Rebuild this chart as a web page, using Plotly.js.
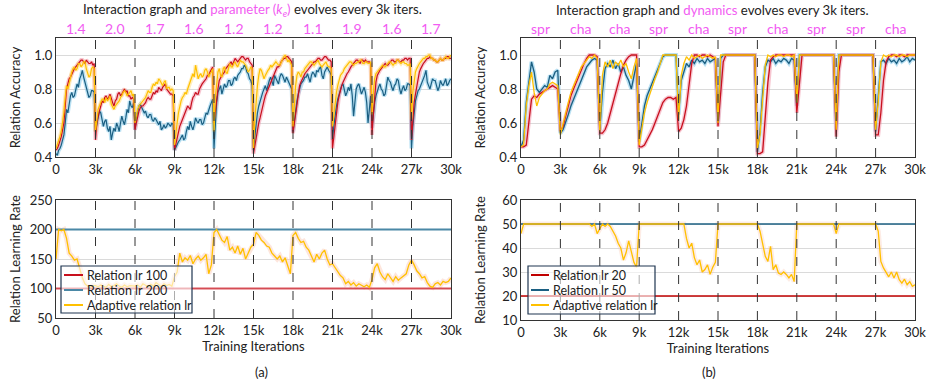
<!DOCTYPE html>
<html>
<head>
<meta charset="utf-8">
<script src="https://cdn.plot.ly/plotly-3.0.1.min.js"></script>
<style>html,body{margin:0;padding:0;background:#fff;}#chart{width:927px;height:383px;}</style>
</head>
<body>
<div id="chart"></div>
<script>
// ---------------- DATA ----------------
// sample grids (training iterations)
const iters100 = [];
for (let t = 0; t <= 30000; t += 100) iters100.push(t);
const iters = [];
for (let t = 0; t <= 30000; t += 200) iters.push(t);

const tickVals = [0, 3000, 6000, 9000, 12000, 15000, 18000, 21000, 24000, 27000, 30000];
const tickText = ['0', '3k', '6k', '9k', '12k', '15k', '18k', '21k', '24k', '27k', '30k'];
const segmentBounds = [3000, 6000, 9000, 12000, 15000, 18000, 21000, 24000, 27000];
const segmentMids = [1500, 4500, 7500, 10500, 13500, 16500, 19500, 22500, 25500, 28500];
const paramLabels = ['1.4', '2.0', '1.7', '1.6', '1.2', '1.2', '1.1', '1.9', '1.6', '1.7'];
const dynLabels = ['spr', 'cha', 'cha', 'spr', 'cha', 'spr', 'cha', 'spr', 'spr', 'cha'];

// (a) relation accuracy, every 100 iters
const accA_lr100 = [
 0.44,0.45,0.47,0.49,0.52, 0.56,0.60,0.70,0.80,0.83, 0.86,0.87,0.89,0.91,0.92, 0.93,0.94,0.95,0.96,0.97, 0.97,0.96,0.95,0.97,0.96, 0.95,0.95,0.96,0.94,0.95,
 0.50,0.60,0.64,0.68,0.70, 0.73,0.72,0.75,0.76,0.74, 0.75,0.77,0.74,0.72,0.70, 0.73,0.74,0.77,0.78,0.76, 0.77,0.79,0.80,0.78,0.79, 0.76,0.76,0.74,0.75,0.74,
 0.56,0.60,0.64,0.67,0.69, 0.70,0.70,0.71,0.72,0.74, 0.75,0.74,0.74,0.76,0.78, 0.77,0.79,0.78,0.81,0.80, 0.79,0.81,0.82,0.83,0.80, 0.79,0.78,0.77,0.77,0.76,
 0.44,0.48,0.52,0.55,0.58, 0.60,0.62,0.64,0.66,0.68, 0.70,0.69,0.68,0.72,0.75, 0.76,0.78,0.77,0.77,0.80, 0.82,0.83,0.84,0.85,0.86, 0.88,0.88,0.90,0.92,0.93,
 0.60,0.68,0.75,0.80,0.85, 0.87,0.88,0.89,0.90,0.92, 0.93,0.94,0.95,0.96,0.94, 0.96,0.98,0.97,0.96,0.97, 0.98,0.99,0.99,0.98,0.97, 0.98,0.98,0.96,0.95,0.94,
 0.42,0.47,0.52,0.56,0.60, 0.63,0.67,0.70,0.73,0.76, 0.78,0.80,0.82,0.84,0.86, 0.88,0.90,0.91,0.93,0.93, 0.94,0.96,0.97,0.98,0.98, 0.99,0.99,0.98,0.97,0.96,
 0.54,0.60,0.66,0.72,0.78, 0.82,0.84,0.86,0.88,0.89, 0.90,0.91,0.92,0.93,0.94, 0.95,0.96,0.96,0.97,0.98, 0.98,0.97,0.97,0.98,0.99, 0.99,0.98,0.97,0.97,0.96,
 0.45,0.52,0.60,0.66,0.72, 0.76,0.80,0.82,0.84,0.86, 0.88,0.89,0.90,0.92,0.93, 0.94,0.95,0.96,0.97,0.97, 0.96,0.95,0.97,0.97,0.96, 0.97,0.96,0.96,0.96,0.95,
 0.53,0.65,0.78,0.84,0.88, 0.90,0.91,0.92,0.93,0.94, 0.95,0.94,0.94,0.95,0.96, 0.97,0.97,0.96,0.96,0.97, 0.97,0.96,0.96,0.97,0.97, 0.98,0.98,0.97,0.98,0.98,
 0.50,0.62,0.72,0.77,0.82, 0.86,0.90,0.92,0.94,0.95, 0.96,0.97,0.98,0.98,0.99, 0.98,0.98,0.97,0.97,0.96, 0.96,0.97,0.98,0.97,0.97, 0.98,0.98,0.99,0.99,0.98, 0.98];
const accA_lr200 = [
 0.42,0.41,0.44,0.45,0.47, 0.50,0.53,0.60,0.68,0.66, 0.73,0.76,0.78,0.75,0.76, 0.80,0.83,0.81,0.86,0.88, 0.91,0.87,0.84,0.80,0.78, 0.75,0.76,0.79,0.79,0.78,
 0.55,0.60,0.63,0.67,0.66, 0.62,0.58,0.61,0.62,0.57, 0.55,0.58,0.50,0.54,0.57, 0.55,0.60,0.58,0.55,0.60, 0.64,0.61,0.59,0.63,0.68, 0.66,0.73,0.70,0.69,0.72,
 0.56,0.63,0.67,0.70,0.71, 0.69,0.68,0.66,0.67,0.64, 0.63,0.65,0.65,0.62,0.61, 0.63,0.62,0.60,0.59,0.61, 0.56,0.57,0.59,0.57,0.58, 0.60,0.59,0.58,0.60,0.59,
 0.44,0.46,0.47,0.49,0.50, 0.52,0.53,0.50,0.51,0.55, 0.58,0.56,0.61,0.58,0.56, 0.59,0.63,0.61,0.60,0.62, 0.62,0.59,0.60,0.63,0.66, 0.65,0.68,0.70,0.72,0.74,
 0.45,0.62,0.72,0.78,0.80, 0.82,0.77,0.80,0.83,0.81, 0.82,0.85,0.85,0.82,0.83, 0.86,0.87,0.85,0.88,0.89, 0.90,0.92,0.92,0.94,0.93, 0.90,0.89,0.86,0.85,0.82,
 0.44,0.52,0.60,0.66,0.70, 0.73,0.76,0.78,0.80,0.82, 0.79,0.83,0.85,0.87,0.84, 0.82,0.88,0.86,0.85,0.83, 0.87,0.89,0.88,0.86,0.84, 0.87,0.85,0.83,0.81,0.80,
 0.55,0.62,0.68,0.73,0.77, 0.80,0.83,0.84,0.85,0.87, 0.87,0.89,0.86,0.84,0.88, 0.90,0.89,0.87,0.91,0.90, 0.92,0.93,0.88,0.86,0.90, 0.92,0.93,0.91,0.90,0.88,
 0.50,0.58,0.66,0.70,0.74, 0.77,0.79,0.82,0.83,0.80, 0.76,0.78,0.81,0.79,0.83, 0.76,0.64,0.72,0.80,0.82, 0.83,0.80,0.77,0.79,0.81, 0.78,0.72,0.60,0.70,0.76,
 0.57,0.65,0.72,0.76,0.79, 0.81,0.83,0.80,0.79,0.76, 0.77,0.82,0.87,0.85,0.84, 0.81,0.79,0.82,0.83,0.86, 0.85,0.80,0.77,0.80,0.82, 0.79,0.80,0.83,0.83,0.82,
 0.45,0.58,0.68,0.73,0.76, 0.79,0.80,0.82,0.83,0.86, 0.88,0.91,0.84,0.82,0.80, 0.83,0.86,0.85,0.85,0.82, 0.79,0.81,0.85,0.83,0.82, 0.84,0.86,0.82,0.83,0.85, 0.86];
const accA_adapt = [
 0.45,0.47,0.49,0.52,0.55, 0.60,0.66,0.75,0.82,0.80, 0.84,0.88,0.90,0.92,0.93, 0.91,0.92,0.95,0.95,0.93, 0.94,0.96,0.96,0.92,0.90, 0.87,0.88,0.92,0.93,0.92,
 0.55,0.64,0.68,0.70,0.72, 0.74,0.74,0.72,0.75,0.73, 0.74,0.76,0.71,0.69,0.68, 0.70,0.71,0.72,0.73,0.75, 0.76,0.78,0.79,0.78,0.76, 0.77,0.78,0.79,0.76,0.77,
 0.60,0.65,0.68,0.70,0.71, 0.72,0.73,0.74,0.75,0.77, 0.79,0.78,0.78,0.81,0.83, 0.82,0.84,0.83,0.86,0.85, 0.83,0.82,0.84,0.85,0.80, 0.81,0.81,0.79,0.80,0.79,
 0.47,0.55,0.60,0.66,0.70, 0.73,0.75,0.76,0.78,0.77, 0.80,0.82,0.84,0.86,0.89, 0.87,0.94,0.90,0.86,0.88, 0.89,0.87,0.88,0.91,0.92, 0.90,0.87,0.89,0.90,0.92,
 0.55,0.75,0.84,0.90,0.92, 0.88,0.87,0.92,0.93,0.90, 0.89,0.93,0.95,0.93,0.93, 0.95,0.96,0.94,0.93,0.95, 0.97,0.96,0.96,0.95,0.94, 0.92,0.90,0.91,0.93,0.92,
 0.45,0.62,0.73,0.82,0.88, 0.92,0.91,0.88,0.86,0.88, 0.90,0.91,0.92,0.94,0.93, 0.94,0.95,0.96,0.95,0.94, 0.94,0.96,0.97,0.99,1.00, 0.98,0.96,0.97,0.95,0.94,
 0.58,0.72,0.82,0.88,0.90, 0.89,0.87,0.90,0.90,0.92, 0.93,0.94,0.95,0.96,0.96, 0.95,0.94,0.95,0.96,0.97, 0.95,0.94,0.93,0.94,0.95, 0.96,0.94,0.93,0.93,0.92,
 0.58,0.66,0.72,0.78,0.82, 0.85,0.88,0.89,0.90,0.92, 0.93,0.94,0.95,0.96,0.96, 0.95,0.94,0.95,0.95,0.96, 0.96,0.97,0.97,0.95,0.95, 0.96,0.96,0.95,0.95,0.96,
 0.65,0.78,0.86,0.89,0.90, 0.91,0.92,0.93,0.94,0.93, 0.93,0.94,0.95,0.96,0.96, 0.95,0.94,0.95,0.95,0.97, 0.97,0.96,0.95,0.96,0.96, 0.95,0.95,0.94,0.94,0.95,
 0.62,0.78,0.86,0.90,0.92, 0.94,0.95,0.96,0.97,0.98, 0.98,0.99,0.99,1.00,1.00, 0.98,0.98,0.97,0.97,0.96, 0.96,0.97,0.98,0.97,0.97, 0.98,0.99,0.98,0.98,0.99, 1.00];

// (b) relation accuracy, every 200 iters
const accB_lr20 = [
 0.46,0.46,0.47,0.62,0.74,0.76,0.75,0.77,0.78,0.79,0.80,0.81,0.82,0.81,0.80,
 0.55,0.58,0.64,0.70,0.76,0.80,0.84,0.88,0.92,0.95,0.98,1.00,1.00,1.00,0.99,
 0.54,0.54,0.56,0.60,0.66,0.72,0.78,0.84,0.89,0.94,0.97,0.99,1.00,1.00,1.00,
 0.46,0.46,0.47,0.50,0.53,0.56,0.60,0.64,0.68,0.72,0.74,0.75,0.75,0.74,0.75,
 0.55,0.57,0.62,0.70,0.82,0.95,1.00,1.00,0.99,1.00,1.00,0.99,1.00,0.99,0.98,
 0.58,0.78,0.96,1.00,1.00,1.00,1.00,1.00,1.00,1.00,1.00,1.00,1.00,1.00,1.00,
 0.42,0.42,0.43,0.62,0.84,0.97,0.99,1.00,1.00,1.00,1.00,1.00,1.00,1.00,1.00,
 0.66,0.85,1.00,1.00,1.00,1.00,1.00,1.00,1.00,1.00,1.00,1.00,1.00,1.00,1.00,
 0.52,0.90,1.00,1.00,1.00,1.00,1.00,1.00,1.00,1.00,1.00,1.00,1.00,1.00,1.00,
 0.53,0.53,0.66,0.85,0.96,0.99,1.00,1.00,0.99,1.00,1.00,0.99,1.00,1.00,1.00,1.00];
const accB_lr50 = [
 0.46,0.50,0.72,0.85,0.96,0.90,0.80,0.78,0.80,0.82,0.81,0.88,0.86,0.90,0.91,
 0.54,0.56,0.60,0.65,0.70,0.74,0.78,0.82,0.86,0.90,0.93,0.95,0.97,0.98,0.97,
 0.56,0.78,0.92,0.95,0.93,0.97,0.92,0.95,0.90,0.93,0.88,0.85,0.80,0.88,0.95,
 0.49,0.60,0.70,0.76,0.80,0.84,0.88,0.92,0.96,0.99,1.00,1.00,1.00,1.00,1.00,
 0.65,0.85,0.90,0.95,0.93,0.97,0.95,0.98,0.96,0.97,0.95,0.98,0.96,0.97,0.98,
 0.60,0.98,1.00,1.00,1.00,1.00,1.00,1.00,1.00,1.00,1.00,1.00,1.00,1.00,1.00,
 0.43,0.55,0.78,0.93,0.97,0.96,0.98,0.95,0.97,0.96,0.98,0.97,0.95,0.98,0.97,
 0.70,1.00,1.00,1.00,1.00,1.00,1.00,1.00,1.00,1.00,1.00,1.00,1.00,1.00,1.00,
 0.56,1.00,1.00,1.00,1.00,1.00,1.00,1.00,1.00,1.00,1.00,1.00,1.00,1.00,1.00,
 0.55,0.75,0.96,0.97,0.95,0.98,0.96,0.97,0.95,0.98,0.96,0.97,0.99,0.96,0.98,0.97];
const accB_adapt = [
 0.46,0.47,0.70,0.82,0.90,0.78,0.70,0.75,0.77,0.79,0.80,0.83,0.84,0.83,0.82,
 0.53,0.60,0.66,0.72,0.78,0.82,0.86,0.89,0.93,0.95,0.97,0.99,0.98,1.00,0.98,
 0.55,0.88,0.96,0.93,0.97,0.92,0.96,0.94,0.97,0.93,0.95,0.90,0.86,0.93,0.98,
 0.47,0.58,0.66,0.72,0.77,0.82,0.86,0.90,0.95,1.00,1.00,1.00,1.00,1.00,1.00,
 0.62,0.88,0.95,0.99,0.97,1.00,0.98,0.99,1.00,0.98,0.99,1.00,0.99,0.98,0.99,
 0.60,1.00,1.00,1.00,1.00,1.00,1.00,1.00,1.00,1.00,1.00,1.00,1.00,1.00,1.00,
 0.45,0.53,0.74,0.94,1.00,0.99,1.00,0.99,1.00,1.00,0.99,1.00,1.00,0.99,1.00,
 0.72,1.00,1.00,1.00,1.00,1.00,1.00,1.00,1.00,1.00,1.00,1.00,1.00,1.00,1.00,
 0.56,1.00,1.00,1.00,1.00,1.00,1.00,1.00,1.00,1.00,1.00,1.00,1.00,1.00,1.00,
 0.56,0.72,0.96,1.00,0.99,1.00,0.99,1.00,1.00,0.99,1.00,1.00,0.99,1.00,1.00,1.00];

// (a) learning rates, every 200 iters
const lrA_fixedX = [0, 30000];
const lrA_low = [100, 100];
const lrA_high = [200, 200];
const lrA_adapt = [
 150,200,198,200,185,160,155,148,150,135,118,108,104,102,105,
 105,103,106,104,102,107,103,105,108,104,102,106,103,105,104,
 104,106,102,108,105,103,107,104,110,106,103,108,105,107,104,
 120,128,160,145,152,148,156,142,150,155,148,152,158,125,140,
 195,200,190,182,178,188,165,170,160,172,158,168,150,160,170,
 175,195,190,182,178,172,170,160,155,150,155,145,152,140,125,
 190,195,185,178,180,170,165,155,145,158,150,160,165,150,140,
 142,135,130,122,118,108,112,106,110,104,108,105,103,106,102,
 115,135,142,128,120,115,125,118,112,120,114,118,122,125,140,
 148,140,130,125,118,120,110,104,102,108,110,106,112,110,112,118];

// (b) learning rates, every 200 iters
const lrB_fixedX = [0, 30000];
const lrB_low = [20, 20];
const lrB_high = [50, 50];
const lrB_adapt = [
 46,50,50,50,50,50,50,50,50,50,50,50,50,50,50,
 50,50,50,50,50,50,50,50,50,50,50,50,49,50,46,
 48,50,49,50,49,47,45,42,40,35,38,43,38,34,32,
 50,50,50,50,50,50,50,50,50,50,50,50,50,50,50,
 50,50,50,44,40,42,36,33,35,30,31,33,29,32,34,
 50,50,50,50,50,50,50,50,50,50,50,50,50,50,50,
 50,47,41,36.5,34.4,40.7,31,33,29.6,29,30,29,27.5,29,26,
 50,50,50,50,50,50,50,50,50,50,50,50,50,50,50,
 46,50,50,50,50,50,50,50,50,50,50,50,50,50,50,
 50,47,34.4,31.7,30,28,30,27.5,30,26.8,25.4,27,24.7,26,24,24.7];

// legend labels
const legendA = ['Relation lr 100', 'Relation lr 200', 'Adaptive relation lr'];
const legendB = ['Relation lr 20', 'Relation lr 50', 'Adaptive relation lr'];

// ---------------- STYLE ----------------
const FONT = 'Lato, "Open Sans", sans-serif';
const RED = '#c8101e', BLUE = '#1b5f82', YEL = '#ffc000';
const RED_BAND = 'rgba(240,150,170,0.55)', BLUE_BAND = 'rgba(140,205,235,0.6)', YEL_BAND = 'rgba(255,220,120,0.5)';
const PINK = '#f25cf2';
const RED_A_LR = 'rgba(210,40,50,0.8)', BLUE_A_LR = '#4a88a6', RED_B_LR = '#c00000';

function band(x, y, xa, ya, color, w) {
  return {x: x, y: y, xaxis: xa, yaxis: ya, type: 'scatter', mode: 'lines',
          line: {color: color, width: w}, hoverinfo: 'skip', showlegend: false};
}
function line(x, y, xa, ya, color, w, name) {
  return {x: x, y: y, xaxis: xa, yaxis: ya, type: 'scatter', mode: 'lines',
          line: {color: color, width: w}, name: name || '', showlegend: false};
}

const traces = [
  band(iters100, accA_lr200, 'x', 'y', BLUE_BAND, 4),
  band(iters100, accA_lr100, 'x', 'y', RED_BAND, 4),
  band(iters100, accA_adapt, 'x', 'y', YEL_BAND, 4),
  line(iters100, accA_lr200, 'x', 'y', BLUE, 1.2),
  line(iters100, accA_lr100, 'x', 'y', RED, 1.2),
  line(iters100, accA_adapt, 'x', 'y', YEL, 1.2),
  band(iters, accB_lr50, 'x2', 'y2', BLUE_BAND, 4),
  band(iters, accB_lr20, 'x2', 'y2', RED_BAND, 4),
  line(iters, accB_lr50, 'x2', 'y2', BLUE, 1.3),
  line(iters, accB_lr20, 'x2', 'y2', RED, 1.3),
  line(iters, accB_adapt, 'x2', 'y2', YEL, 1.3),
  band(iters, lrA_adapt, 'x3', 'y3', 'rgba(250,200,180,0.45)', 5),
  line(lrA_fixedX, lrA_low, 'x3', 'y3', RED_A_LR, 2.2, legendA[0]),
  line(lrA_fixedX, lrA_high, 'x3', 'y3', BLUE_A_LR, 2, legendA[1]),
  line(iters, lrA_adapt, 'x3', 'y3', YEL, 1.3, legendA[2]),
  band(iters, lrB_adapt, 'x4', 'y4', 'rgba(250,200,180,0.35)', 5),
  line(lrB_fixedX, lrB_low, 'x4', 'y4', RED_B_LR, 1.6, legendB[0]),
  line(lrB_fixedX, lrB_high, 'x4', 'y4', BLUE, 1.6, legendB[1]),
  line(iters, lrB_adapt, 'x4', 'y4', YEL, 1.3, legendB[2]),
];

const W = 927, H = 383;
const xd = (a, b) => [a / W, b / W];
const yd = (top, bottom) => [1 - bottom / H, 1 - top / H];

function xaxis(dom, anchor, title) {
  const ax = {domain: dom, anchor: anchor, range: [0, 30000], tickvals: tickVals, ticktext: tickText,
    showgrid: false, zeroline: false, showline: true, mirror: true, linecolor: '#333', linewidth: 1,
    ticks: '', tickfont: {family: FONT, size: 13, color: '#222'}, fixedrange: true};
  if (title) ax.title = {text: title, font: {family: FONT, size: 13, color: '#222'}, standoff: 4};
  return ax;
}
function yaxis(dom, anchor, range, vals, txt, title) {
  return {domain: dom, anchor: anchor, range: range, tickvals: vals, ticktext: txt,
    showgrid: true, gridcolor: '#dadada', gridwidth: 1, zeroline: false, showline: true, mirror: true,
    linecolor: '#333', linewidth: 1, ticks: '', tickfont: {family: FONT, size: 13, color: '#222'},
    title: {text: title, font: {family: FONT, size: 13, color: '#222'}}, fixedrange: true};
}

const accTicks = [0.4, 0.6, 0.8, 1.0], accText = ['0.4', '0.6', '0.8', '1.0'];
const lrATicks = [50, 100, 150, 200, 250];
const lrBTicks = [10, 20, 30, 40, 50, 60];

const shapes = [];
['x', 'x2', 'x3', 'x4'].forEach((xa, i) => {
  const ya = ['y', 'y2', 'y3', 'y4'][i];
  segmentBounds.forEach(b => shapes.push({type: 'line', xref: xa, yref: ya + ' domain', x0: b, x1: b, y0: 0, y1: 1,
    line: {color: '#333', width: 1, dash: 'dash'}, layer: 'above'}));
});

const annotations = [];
annotations.push({xref: 'paper', yref: 'paper', x: 252 / W, y: 1 - 10 / H, showarrow: false, xanchor: 'center', yanchor: 'middle',
  text: "Interaction graph and <span style='color:" + PINK + "'>parameter (<i>k<sub>e</sub></i>)</span> evolves every 3k iters.",
  font: {family: FONT, size: 13.2, color: '#222'}});
annotations.push({xref: 'paper', yref: 'paper', x: 712 / W, y: 1 - 10 / H, showarrow: false, xanchor: 'center', yanchor: 'middle',
  text: "Interaction graph and <span style='color:" + PINK + "'>dynamics</span> evolves every 3k iters.",
  font: {family: FONT, size: 13.2, color: '#222'}});
segmentMids.forEach((m, i) => {
  annotations.push({xref: 'x', yref: 'paper', x: m, y: 1 - 28 / H, showarrow: false, yanchor: 'middle',
    text: paramLabels[i], font: {family: FONT, size: 14, color: PINK}});
  annotations.push({xref: 'x2', yref: 'paper', x: m, y: 1 - 28 / H, showarrow: false, yanchor: 'middle',
    text: dynLabels[i], font: {family: FONT, size: 14, color: PINK}});
});
annotations.push({xref: 'paper', yref: 'paper', x: 253 / W, y: 1 - 372 / H, showarrow: false, yanchor: 'middle',
  text: '(a)', font: {family: FONT, size: 13, color: '#222'}});
annotations.push({xref: 'paper', yref: 'paper', x: 718 / W, y: 1 - 372 / H, showarrow: false, yanchor: 'middle',
  text: '(b)', font: {family: FONT, size: 13, color: '#222'}});

// hand-built legend boxes (compact, like the reference)
function addLegend(box, sampleX0, sampleX1, textX, rowsY, labels, colors, widths) {
  shapes.push({type: 'rect', xref: 'paper', yref: 'paper', x0: box[0] / W, x1: box[1] / W,
    y0: 1 - box[3] / H, y1: 1 - box[2] / H, fillcolor: 'rgba(255,255,255,0.6)',
    line: {color: '#1f3550', width: 1.2}, layer: 'above'});
  labels.forEach((lab, i) => {
    shapes.push({type: 'line', xref: 'paper', yref: 'paper', x0: sampleX0 / W, x1: sampleX1 / W,
      y0: 1 - rowsY[i] / H, y1: 1 - rowsY[i] / H, line: {color: colors[i], width: widths[i]}, layer: 'above'});
    annotations.push({xref: 'paper', yref: 'paper', x: textX / W, y: 1 - rowsY[i] / H, xanchor: 'left', yanchor: 'middle',
      showarrow: false, text: lab, font: {family: FONT, size: 12.5, color: '#222'}});
  });
}
addLegend([61, 192, 266, 313], 64, 83, 85, [275, 290, 305], legendA, [RED, BLUE_A_LR, YEL], [2, 2, 2]);
addLegend([528, 655, 266, 314], 531, 549, 551, [275, 290, 305], legendB, [RED_B_LR, BLUE, YEL], [2, 2, 2]);

const layout = {
  width: W, height: H, margin: {l: 0, r: 0, t: 0, b: 0}, paper_bgcolor: '#fff', plot_bgcolor: '#fff',
  font: {family: FONT, color: '#222'},
  xaxis: xaxis(xd(56, 451), 'y'),
  yaxis: yaxis(yd(38, 157), 'x', [0.4, 1.1], accTicks, accText, 'Relation Accuracy'),
  xaxis2: xaxis(xd(521, 915), 'y2'),
  yaxis2: yaxis(yd(38, 157), 'x2', [0.4, 1.1], accTicks, accText, 'Relation Accuracy'),
  xaxis3: xaxis(xd(56, 451), 'y3', 'Training Iterations'),
  yaxis3: yaxis(yd(200, 318), 'x3', [50, 250], lrATicks, lrATicks.map(String), 'Relation Learning Rate'),
  xaxis4: xaxis(xd(521, 915), 'y4', 'Training Iterations'),
  yaxis4: yaxis(yd(200, 320), 'x4', [10, 60], lrBTicks, lrBTicks.map(String), 'Relation Learning Rate'),
  shapes: shapes,
  annotations: annotations,
  showlegend: false
};

Plotly.newPlot('chart', traces, layout, {staticPlot: true, displayModeBar: false});
</script>
</body>
</html>
